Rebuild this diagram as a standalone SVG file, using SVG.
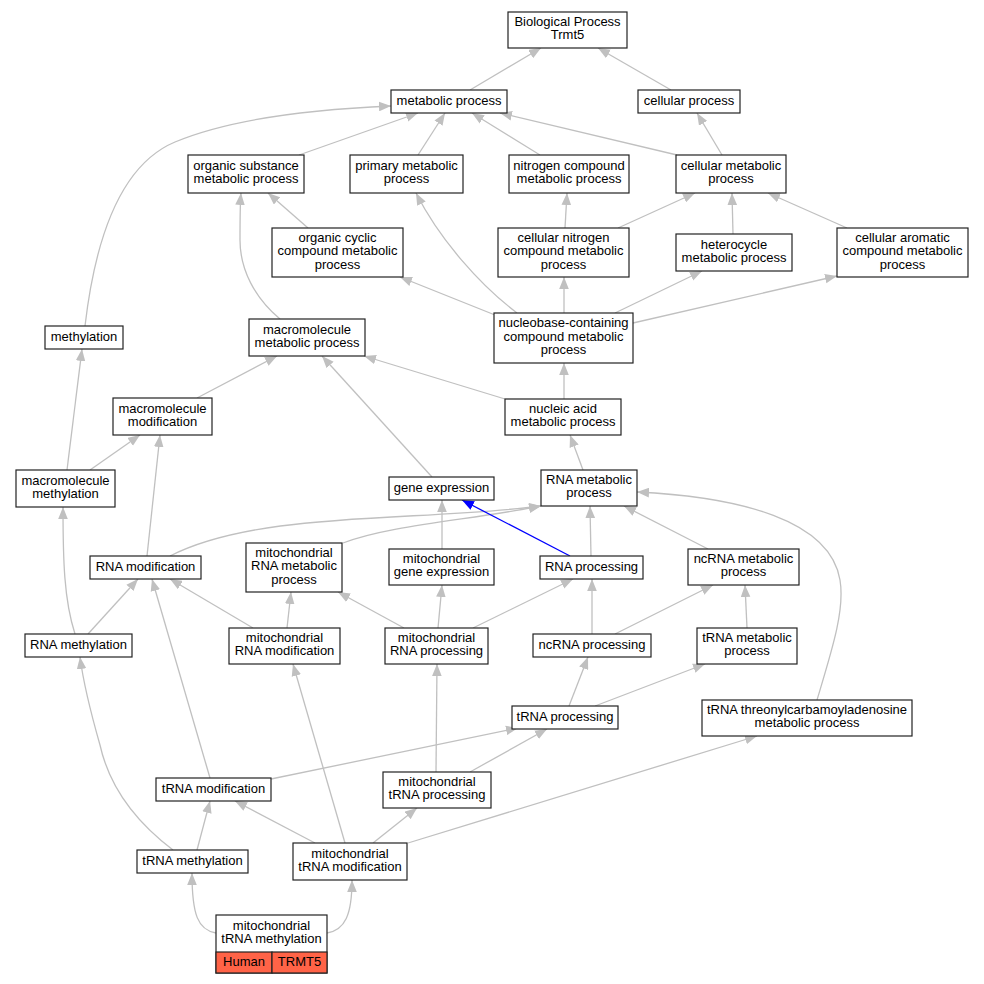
<svg xmlns="http://www.w3.org/2000/svg" width="984" height="984" viewBox="0 0 984 984">
<defs>
<style>
.n rect{fill:#fff;stroke:#222;stroke-width:1.2}
.n text,text{font-family:"Liberation Sans",Arial,sans-serif;font-size:13px;fill:#000;text-anchor:middle}
.e path{fill:none;stroke:#c0c0c0;stroke-width:1.3;marker-end:url(#ah)}
.e path.b{stroke:#0000ff;marker-end:url(#ahb)}
rect.hl{fill:#ff6347}
</style>
<marker id="ah" markerUnits="userSpaceOnUse" markerWidth="12" markerHeight="10" viewBox="0 0 12 10" refX="12" refY="5" orient="auto"><path d="M0,0.2 L12,5 L0,9.8 z" fill="#c0c0c0"/></marker>
<marker id="ahb" markerUnits="userSpaceOnUse" markerWidth="12" markerHeight="10" viewBox="0 0 12 10" refX="12" refY="5" orient="auto"><path d="M0,0.2 L12,5 L0,9.8 z" fill="#0000ff"/></marker>
</defs>
<rect width="984" height="984" fill="#fff"/>
<g id="edges" class="e">
<path d="M470,90 L541,48"/>
<path d="M671,90 L598,48"/>
<path d="M299,155 L418,113"/>
<path d="M418,155 L445,113"/>
<path d="M540,155 L472,113"/>
<path d="M677,155 L500,113"/>
<path d="M722,155 L697,113"/>
<path d="M85,326 C95,240 120,165 175,142 C235,117 320,109 391,106"/>
<path d="M308,228 L268,193"/>
<path d="M280,319 C255,298 240,270 240,240 C240,220 240,205 241,193"/>
<path d="M565,228 L567,193"/>
<path d="M517,313 C480,285 440,240 416,193"/>
<path d="M618,228 L695,193"/>
<path d="M733,234 L732,193"/>
<path d="M847,228 L768,193"/>
<path d="M495,315 L400,277"/>
<path d="M564,313 L564,277"/>
<path d="M615,313 L702,271"/>
<path d="M633,323 L837,276"/>
<path d="M564,399 L564,363"/>
<path d="M505,399 L364,356"/>
<path d="M197,398 L277,356"/>
<path d="M432,477 L322,356"/>
<path d="M583,470 L570,435"/>
<path d="M67,470 L82,349"/>
<path d="M90,470 L140,435"/>
<path d="M147,556 L160,435"/>
<path d="M170,556 C260,510 420,522 541,506"/>
<path d="M343,543 C390,525 470,520 541,506"/>
<path d="M442,549 L442,500"/>
<path class="b" d="M570,556 L462,500"/>
<path d="M591,556 L590,506"/>
<path d="M708,549 L624,506"/>
<path d="M817,700 C832,650 845,610 840,580 C830,520 740,497 637,492"/>
<path d="M88,634 L138,579"/>
<path d="M75,634 C64,600 63,560 63,507"/>
<path d="M253,628 L170,579"/>
<path d="M287,628 L291,592"/>
<path d="M404,628 L338,592"/>
<path d="M438,628 L442,585"/>
<path d="M473,628 L573,579"/>
<path d="M592,634 L592,579"/>
<path d="M615,634 L713,585"/>
<path d="M747,628 L745,585"/>
<path d="M569,706 L588,657"/>
<path d="M595,706 L705,664"/>
<path d="M271,779 L518,728"/>
<path d="M470,772 L547,729"/>
<path d="M210,778 L152,579"/>
<path d="M436,772 L437,664"/>
<path d="M197,850 L210,801"/>
<path d="M173,850 C140,825 110,790 100,745 C90,710 83,680 80,657"/>
<path d="M315,843 L235,801"/>
<path d="M345,843 L293,664"/>
<path d="M373,843 L417,808"/>
<path d="M408,843 L757,736"/>
<path d="M216,933 C198,930 192,915 192,873"/>
<path d="M327,933 C345,930 352,915 352,880"/>
</g>
<g id="bio" class="n"><rect x="508" y="12" width="119" height="36"/><text x="567.5" y="26">Biological Process</text><text x="567.5" y="39.4">Trmt5</text></g>
<g id="metab" class="n"><rect x="391" y="90" width="116" height="23"/><text x="449" y="104.5">metabolic process</text></g>
<g id="cellproc" class="n"><rect x="638" y="90" width="102" height="23"/><text x="689" y="104.5">cellular process</text></g>
<g id="orgsub" class="n"><rect x="188" y="155" width="116" height="38"/><text x="246" y="170">organic substance</text><text x="246" y="183.4">metabolic process</text></g>
<g id="primary" class="n"><rect x="350" y="155" width="113" height="38"/><text x="406.5" y="170">primary metabolic</text><text x="406.5" y="183.4">process</text></g>
<g id="nitro" class="n"><rect x="509" y="155" width="120" height="38"/><text x="569" y="170">nitrogen compound</text><text x="569" y="183.4">metabolic process</text></g>
<g id="cellmet" class="n"><rect x="676" y="155" width="110" height="38"/><text x="731" y="170">cellular metabolic</text><text x="731" y="183.4">process</text></g>
<g id="orgcyc" class="n"><rect x="272" y="228" width="131" height="49"/><text x="337.5" y="241.8">organic cyclic</text><text x="337.5" y="255.2">compound metabolic</text><text x="337.5" y="268.6">process</text></g>
<g id="cellnitro" class="n"><rect x="498" y="228" width="131" height="49"/><text x="563.5" y="241.8">cellular nitrogen</text><text x="563.5" y="255.2">compound metabolic</text><text x="563.5" y="268.6">process</text></g>
<g id="hetero" class="n"><rect x="676" y="234" width="116" height="37"/><text x="734" y="248.5">heterocycle</text><text x="734" y="261.9">metabolic process</text></g>
<g id="arom" class="n"><rect x="837" y="228" width="131" height="49"/><text x="902.5" y="241.8">cellular aromatic</text><text x="902.5" y="255.2">compound metabolic</text><text x="902.5" y="268.6">process</text></g>
<g id="methyl" class="n"><rect x="45" y="326" width="78" height="23"/><text x="84" y="340.5">methylation</text></g>
<g id="macmet" class="n"><rect x="249" y="319" width="116" height="37"/><text x="307" y="333.5">macromolecule</text><text x="307" y="346.9">metabolic process</text></g>
<g id="nucleo" class="n"><rect x="494" y="313" width="139" height="50"/><text x="563.5" y="327.3">nucleobase-containing</text><text x="563.5" y="340.7">compound metabolic</text><text x="563.5" y="354.1">process</text></g>
<g id="macmod" class="n"><rect x="113" y="398" width="99" height="37"/><text x="162.5" y="412.5">macromolecule</text><text x="162.5" y="425.9">modification</text></g>
<g id="nucacid" class="n"><rect x="505" y="399" width="116" height="36"/><text x="563" y="413">nucleic acid</text><text x="563" y="426.4">metabolic process</text></g>
<g id="macmethyl" class="n"><rect x="16" y="470" width="99" height="37"/><text x="65.5" y="484.5">macromolecule</text><text x="65.5" y="497.9">methylation</text></g>
<g id="geneexp" class="n"><rect x="389" y="477" width="105" height="23"/><text x="441.5" y="491.5">gene expression</text></g>
<g id="rnamet" class="n"><rect x="541" y="470" width="96" height="36"/><text x="589" y="484">RNA metabolic</text><text x="589" y="497.4">process</text></g>
<g id="rnamod" class="n"><rect x="90" y="556" width="111" height="23"/><text x="145.5" y="570.5">RNA modification</text></g>
<g id="mitornamet" class="n"><rect x="246" y="543" width="96" height="49"/><text x="294" y="556.8">mitochondrial</text><text x="294" y="570.2">RNA metabolic</text><text x="294" y="583.6">process</text></g>
<g id="mitogene" class="n"><rect x="389" y="549" width="105" height="36"/><text x="441.5" y="563">mitochondrial</text><text x="441.5" y="576.4">gene expression</text></g>
<g id="rnaproc" class="n"><rect x="540" y="556" width="103" height="23"/><text x="591.5" y="570.5">RNA processing</text></g>
<g id="ncrnamet" class="n"><rect x="688" y="549" width="111" height="36"/><text x="743.5" y="563">ncRNA metabolic</text><text x="743.5" y="576.4">process</text></g>
<g id="rnamethyl" class="n"><rect x="25" y="634" width="107" height="23"/><text x="78.5" y="648.5">RNA methylation</text></g>
<g id="mitornamod" class="n"><rect x="229" y="628" width="111" height="36"/><text x="284.5" y="642">mitochondrial</text><text x="284.5" y="655.4">RNA modification</text></g>
<g id="mitornaproc" class="n"><rect x="385" y="628" width="103" height="36"/><text x="436.5" y="642">mitochondrial</text><text x="436.5" y="655.4">RNA processing</text></g>
<g id="ncrnaproc" class="n"><rect x="533" y="634" width="118" height="23"/><text x="592" y="648.5">ncRNA processing</text></g>
<g id="trnamet" class="n"><rect x="697" y="628" width="100" height="36"/><text x="747" y="642">tRNA metabolic</text><text x="747" y="655.4">process</text></g>
<g id="trnaproc" class="n"><rect x="512" y="706" width="106" height="23"/><text x="565" y="720.5">tRNA processing</text></g>
<g id="trnathreo" class="n"><rect x="702" y="700" width="210" height="36"/><text x="807" y="714">tRNA threonylcarbamoyladenosine</text><text x="807" y="727.4">metabolic process</text></g>
<g id="trnamod" class="n"><rect x="156" y="778" width="115" height="23"/><text x="213.5" y="792.5">tRNA modification</text></g>
<g id="mitotrnaproc" class="n"><rect x="383" y="772" width="108" height="36"/><text x="437" y="786">mitochondrial</text><text x="437" y="799.4">tRNA processing</text></g>
<g id="trnamethyl" class="n"><rect x="137" y="850" width="111" height="23"/><text x="192.5" y="864.5">tRNA methylation</text></g>
<g id="mitotrnamod" class="n"><rect x="293" y="843" width="114" height="37"/><text x="350" y="857.5">mitochondrial</text><text x="350" y="870.9">tRNA modification</text></g>
<g id="mitotrnamethyl" class="n"><rect x="216" y="915" width="111" height="58"/><text x="271.5" y="929.5">mitochondrial</text><text x="271.5" y="942.9">tRNA methylation</text><rect class="hl" x="216" y="952" width="56" height="21"/><rect class="hl" x="272" y="952" width="55" height="21"/><text x="244" y="966">Human</text><text x="299.5" y="966">TRMT5</text></g>
</svg>
